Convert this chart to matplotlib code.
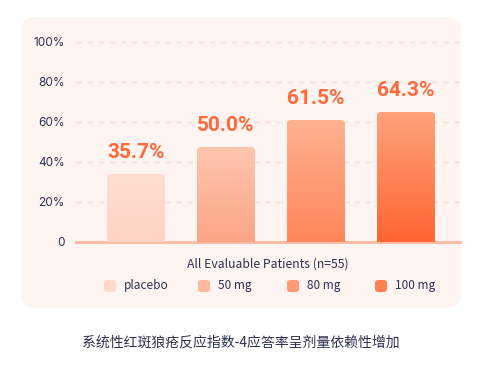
import numpy as np
import matplotlib
matplotlib.use("Agg")
import matplotlib.pyplot as plt
from matplotlib.patches import FancyBboxPatch, PathPatch
from matplotlib.path import Path
from matplotlib.colors import LinearSegmentedColormap

# data
groups = ["placebo", "50 mg", "80 mg", "100 mg"]
bar_heights = [34.0, 47.5, 61.0, 65.0]
bar_labels = ["35.7%", "50.0%", "61.5%", "64.3%"]
y_ticks = [0, 20, 40, 60, 80, 100]
y_ticklabels = ["0", "20%", "40%", "60%", "80%", "100%"]
legend_title = "All Evaluable Patients (n=55)"
caption = "系统性红斑狼疮反应指数-4应答率呈剂量依赖性增加"

grad_top = ["#FFDED1", "#FEC6AE", "#FEB291", "#FFA27A"]
grad_bottom = ["#FFD3C3", "#FCA586", "#FF8659", "#FF6533"]
legend_colors = ["#FFD9CA", "#FFB79C", "#FE9A74", "#FF8050"]

navy = "#2D3250"
label_color = "#FF6A3D"

W, H = 484, 367
fig = plt.figure(figsize=(W / 100, H / 100), dpi=100)
fig.patch.set_facecolor("white")


def fx(x):
    return x / W


def fy(y):
    return 1 - y / H


# panel background (inches so rounding is round)
panel = FancyBboxPatch((21 / 100, (H - 308) / 100), 440 / 100, 291 / 100,
                       boxstyle="round,pad=0,rounding_size=0.15",
                       transform=fig.dpi_scale_trans, facecolor="#FEF4F1",
                       edgecolor="none", zorder=-5)
fig.patches.append(panel)

ax = fig.add_axes([fx(76), fy(242), (460 - 76) / W, 200 / H])
ax.set_facecolor("none")
ax.set_zorder(2)
ax.set_xlim(-0.667, 3.6)
ax.set_ylim(0, 100)
for s in ax.spines.values():
    s.set_visible(False)
ax.set_xticks([])
ax.set_yticks(y_ticks)
ax.set_yticklabels(y_ticklabels, fontsize=8.5, color=navy, family="Inter")
ax.tick_params(axis="y", length=0, pad=8)

for t in y_ticks[1:]:
    ax.axhline(t, color="#FBDDD3", lw=1, ls=(0, (4, 4)), zorder=1)
ax.axhline(0, color="#FDB9A2", lw=2, zorder=2, clip_on=False)

bw = 0.644
rx, ry = 4 / 90, 4 / 2
for i, h in enumerate(bar_heights):
    x0, x1 = i - bw / 2, i + bw / 2
    verts = [(x0, 0), (x0, h - ry), (x0, h), (x0 + rx, h),
             (x1 - rx, h), (x1, h), (x1, h - ry), (x1, 0), (x0, 0)]
    codes = [Path.MOVETO, Path.LINETO, Path.CURVE3, Path.CURVE3,
             Path.LINETO, Path.CURVE3, Path.CURVE3, Path.LINETO, Path.CLOSEPOLY]
    clip = PathPatch(Path(verts, codes), facecolor="none", edgecolor="none",
                     transform=ax.transData)
    ax.add_patch(clip)
    cmap = LinearSegmentedColormap.from_list("g%d" % i, [grad_bottom[i], grad_top[i]])
    grad = np.linspace(0, 1, 256).reshape(-1, 1)
    im = ax.imshow(grad, extent=[x0, x1, 0, h], origin="lower", cmap=cmap,
                   aspect="auto", zorder=3)
    im.set_clip_path(clip)
    ax.text(i, h + 10.5, bar_labels[i], ha="center", va="center",
            fontsize=15, fontweight="bold", color=label_color, family="Roboto")

ax.set_xlim(-0.667, 3.6)
ax.set_ylim(0, 100)

# legend
fig.text(fx(268), fy(264), legend_title, ha="center", va="center",
         fontsize=8.8, color=navy, family="Noto Sans CJK SC")
sq_x = [104, 198, 287, 375]
for i, g in enumerate(groups):
    sq = FancyBboxPatch((sq_x[i] / 100, (H - 292) / 100), 12 / 100, 12 / 100,
                        boxstyle="round,pad=0,rounding_size=0.03",
                        transform=fig.dpi_scale_trans,
                        facecolor=legend_colors[i], edgecolor="none")
    fig.patches.append(sq)
    fig.text(fx(sq_x[i] + 20), fy(286), g, ha="left", va="center",
             fontsize=8.5, color=navy, family="Noto Sans CJK SC")

fig.text(fx(241), fy(342), caption, ha="center", va="center",
         fontsize=10, color=navy, family=["Noto Sans CJK SC", "DejaVu Sans"])

fig.savefig("out.png", dpi=100)
